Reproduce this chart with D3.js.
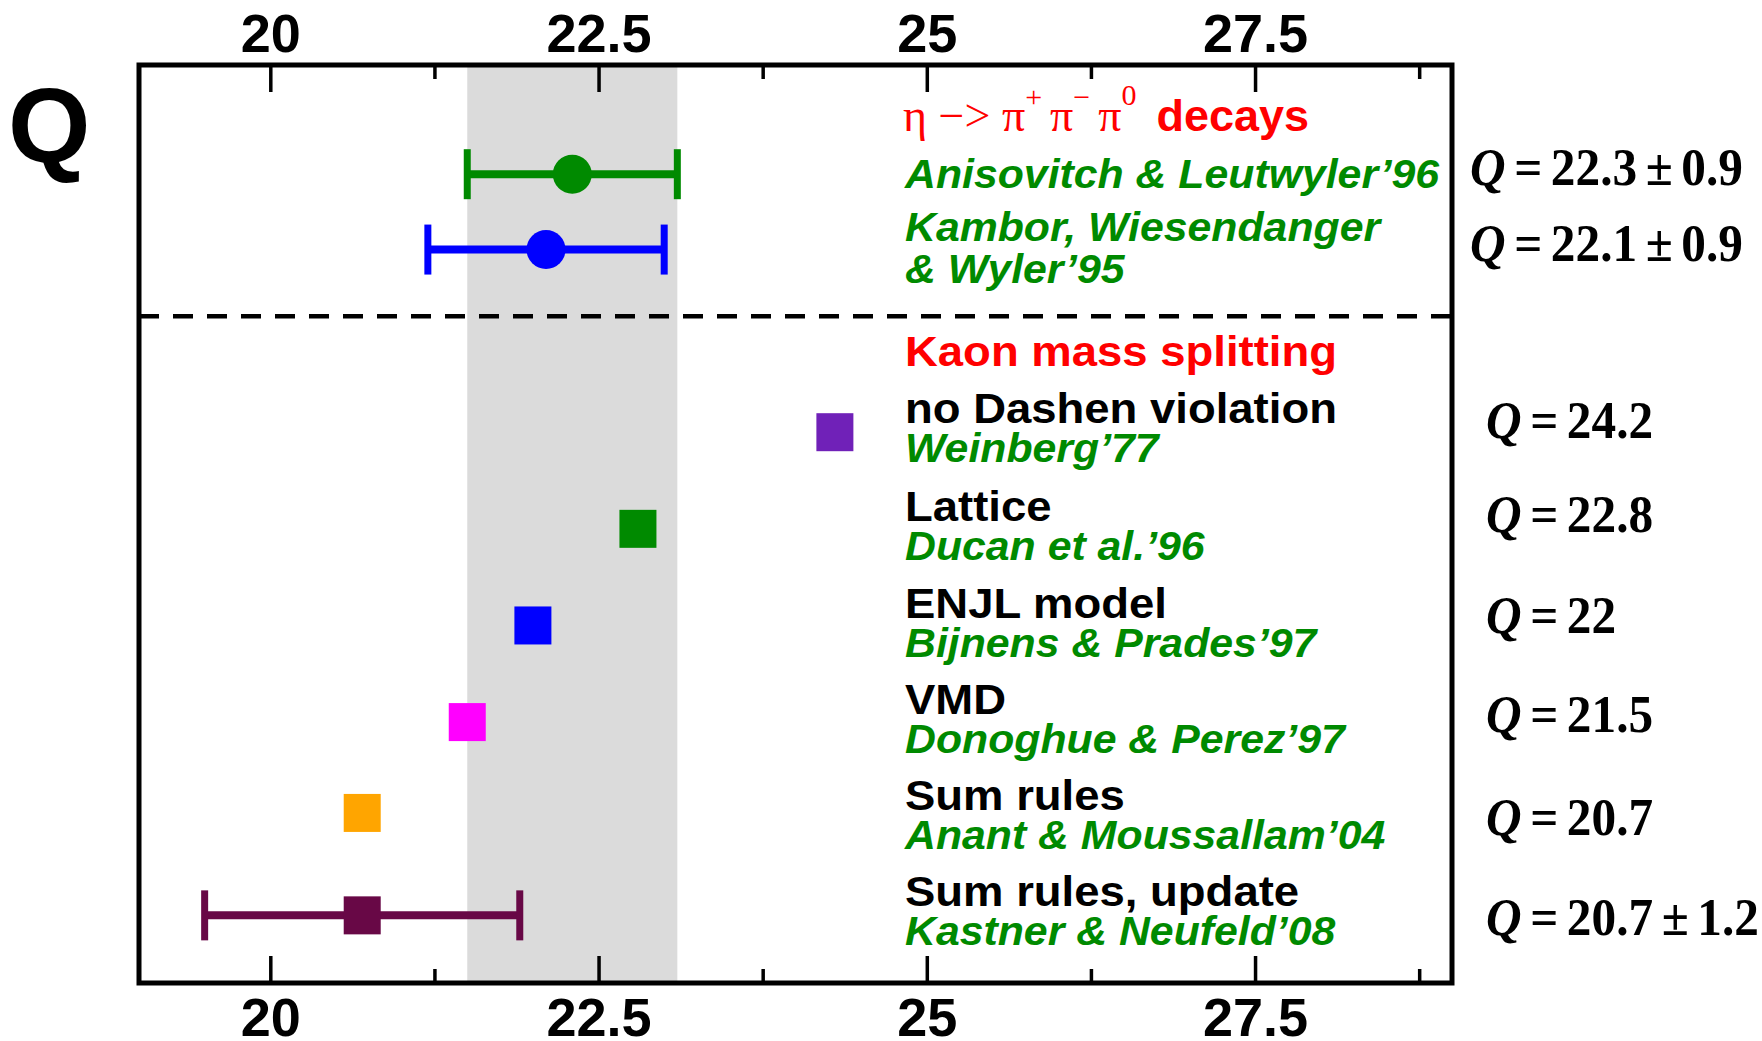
<!DOCTYPE html>
<html>
<head>
<meta charset="utf-8">
<script src="https://cdn.jsdelivr.net/npm/d3@7"></script>
<style>
  body { margin: 0; background: #fff; }
  svg { display: block; }
</style>
</head>
<body>
<div id="chart"></div>
<script>
// axis
const xDomain = [19, 29];
const majorTicks = [20, 22.5, 25, 27.5];
const minorTicks = [21.25, 23.75, 26.25, 28.75];
const bandRange = [21.5, 23.1];
const yDomain = [0, 9.5];
const dividerRow = 6.9;

// eta -> 3pi decays
const etaValues = [22.3, 22.1];
const etaErrors = [0.8, 0.9];
const etaRows = [8.37, 7.59];
const etaColors = ['#008a00', '#0000ff'];
const etaRefs = ['Anisovitch & Leutwyler’96', 'Kambor, Wiesendanger', '& Wyler’95'];
const etaRefRows = [8.227, 7.679, 7.244];

// kaon mass splitting
const kaonValues = [24.3, 22.8, 22.0, 21.5, 20.7, 20.7];
const kaonErrors = [0, 0, 0, 0, 0, 1.2];
const kaonRows = [5.70, 4.70, 3.70, 2.70, 1.76, 0.70];
const kaonColors = ['#7021b8', '#008a00', '#0000ff', '#ff00ff', '#ffa500', '#680846'];
const kaonMethods = ['no Dashen violation', 'Lattice', 'ENJL model', 'VMD', 'Sum rules', 'Sum rules, update'];
const kaonRefs = ['Weinberg’77', 'Ducan et al.’96', 'Bijnens & Prades’97', 'Donoghue & Perez’97', 'Anant & Moussallam’04', 'Kastner & Neufeld’08'];
const kaonTextRows = [5.795, 4.784, 3.777, 2.784, 1.790, 0.797];

// quoted results on the right
const qLabels = ['22.3 ± 0.9', '22.1 ± 0.9', '24.2', '22.8', '22', '21.5', '20.7', '20.7 ± 1.2'];
const qRows = [8.258, 7.472, 5.635, 4.667, 3.622, 2.598, 1.532, 0.497];

const width = 1762, height = 1041;
const plot = { left: 139, right: 1452, top: 65, bottom: 983 };
const textX = 905;
const stretch = 1.07;

const svg = d3.select('#chart').append('svg')
  .attr('width', width)
  .attr('height', height);

const x = d3.scaleLinear().domain(xDomain).range([plot.left, plot.right]);
const y = d3.scaleLinear().domain(yDomain).range([plot.bottom, plot.top]);

// grey band
svg.append('rect')
  .attr('x', x(bandRange[0]))
  .attr('y', plot.top)
  .attr('width', x(bandRange[1]) - x(bandRange[0]))
  .attr('height', plot.bottom - plot.top)
  .attr('fill', '#dbdbdb');

// dashed divider
svg.append('line')
  .attr('x1', plot.left).attr('x2', plot.right)
  .attr('y1', y(dividerRow)).attr('y2', y(dividerRow))
  .attr('stroke', '#000')
  .attr('stroke-width', 4.5)
  .attr('stroke-dasharray', '20,14');

// axes, ticks inward
function drawAxis(axisFn, yPos, ticks, size, labels, labelY) {
  const g = svg.append('g')
    .attr('transform', `translate(0,${yPos})`)
    .call(axisFn(x).tickValues(ticks).tickSize(size).tickFormat(labels ? d3.format('') : ''));
  g.select('.domain').remove();
  g.selectAll('line').attr('stroke', '#000').attr('stroke-width', 3.5);
  g.selectAll('text')
    .attr('y', labelY).attr('dy', 0)
    .attr('fill', '#000')
    .style('font-family', '"Liberation Sans", Arial, sans-serif')
    .style('font-weight', 'bold')
    .style('font-size', '54px');
}
drawAxis(d3.axisBottom, plot.bottom, majorTicks, -27, true, 53);
drawAxis(d3.axisBottom, plot.bottom, minorTicks, -14, false, 53);
drawAxis(d3.axisTop, plot.top, majorTicks, -27, true, -13);
drawAxis(d3.axisTop, plot.top, minorTicks, -14, false, -13);

// frame
svg.append('rect')
  .attr('x', plot.left).attr('y', plot.top)
  .attr('width', plot.right - plot.left)
  .attr('height', plot.bottom - plot.top)
  .attr('fill', 'none')
  .attr('stroke', '#000')
  .attr('stroke-width', 5);

// error bars
function errorBar(v, e, row, color) {
  if (!e) return;
  const g = svg.append('g').attr('stroke', color);
  g.append('line')
    .attr('x1', x(v - e)).attr('x2', x(v + e))
    .attr('y1', y(row)).attr('y2', y(row))
    .attr('stroke-width', 8);
  [v - e, v + e].forEach(c => {
    g.append('line')
      .attr('x1', x(c)).attr('x2', x(c))
      .attr('y1', y(row) - 25).attr('y2', y(row) + 25)
      .attr('stroke-width', 7);
  });
}

etaValues.forEach((v, i) => errorBar(v, etaErrors[i], etaRows[i], etaColors[i]));
kaonValues.forEach((v, i) => errorBar(v, kaonErrors[i], kaonRows[i], kaonColors[i]));

svg.selectAll('circle.eta')
  .data(etaValues)
  .enter()
  .append('circle')
  .attr('class', 'eta')
  .attr('cx', d => x(d))
  .attr('cy', (d, i) => y(etaRows[i]))
  .attr('r', 19.5)
  .attr('fill', (d, i) => etaColors[i]);

svg.selectAll('rect.kaon')
  .data(kaonValues)
  .enter()
  .append('rect')
  .attr('class', 'kaon')
  .attr('x', d => x(d) - 18.5)
  .attr('y', (d, i) => y(kaonRows[i]) - 19)
  .attr('width', 37)
  .attr('height', 38)
  .attr('fill', (d, i) => kaonColors[i]);

// text helpers
const sans = '"Liberation Sans", Arial, Helvetica, sans-serif';
const serif = '"Liberation Serif", "Times New Roman", serif';

function label(str, xPos, yPos, color, size, italic) {
  svg.append('text')
    .attr('transform', `translate(${xPos},${yPos}) scale(${stretch},1)`)
    .attr('fill', color)
    .style('font-family', sans)
    .style('font-weight', 'bold')
    .style('font-style', italic ? 'italic' : 'normal')
    .style('font-size', size + 'px')
    .text(str);
}

// big Q
svg.append('text')
  .attr('x', 8).attr('y', 162)
  .style('font-family', sans)
  .style('font-weight', 'bold')
  .style('font-size', '106px')
  .text('Q');

// eta header: η −> π+ π− π0 decays
const head = svg.append('text')
  .attr('x', textX - 2).attr('y', y(8.817))
  .attr('fill', '#ff0000')
  .style('font-family', serif)
  .style('font-size', '46px');
head.append('tspan').text('η −> π');
head.append('tspan').attr('dy', -24).style('font-size', '30px').text('+');
head.append('tspan').attr('dy', 24).attr('dx', 8).text('π');
head.append('tspan').attr('dy', -24).style('font-size', '30px').text('−');
head.append('tspan').attr('dy', 24).attr('dx', 8).text('π');
head.append('tspan').attr('dy', -26).style('font-size', '30px').text('0');
head.append('tspan').attr('dy', 26).attr('dx', 20)
  .style('font-family', sans).style('font-weight', 'bold').style('font-size', '45px')
  .text('decays');

etaRefs.forEach((t, i) => label(t, textX, y(etaRefRows[i]), '#008a00', 40, true));

label('Kaon mass splitting', textX, y(6.38), '#ff0000', 42.5, false);

kaonMethods.forEach((t, i) => {
  label(t, textX, y(kaonTextRows[i]), '#000', 42.5, false);
  label(kaonRefs[i], textX, y(kaonTextRows[i]) + 39, '#008a00', 40, true);
});

// Q = ... results
qLabels.forEach((t, i) => {
  const tx = svg.append('text')
    .attr('transform', `translate(${i < 2 ? 1470 : 1486},${y(qRows[i])}) scale(0.93,1)`)
    .attr('fill', '#000')
    .style('font-family', serif)
    .style('font-weight', 'bold')
    .style('font-size', '53px')
    .style('word-spacing', '-4px');
  tx.append('tspan').style('font-style', 'italic').text('Q');
  tx.append('tspan').text(' = ' + t);
});
</script>
</body>
</html>
